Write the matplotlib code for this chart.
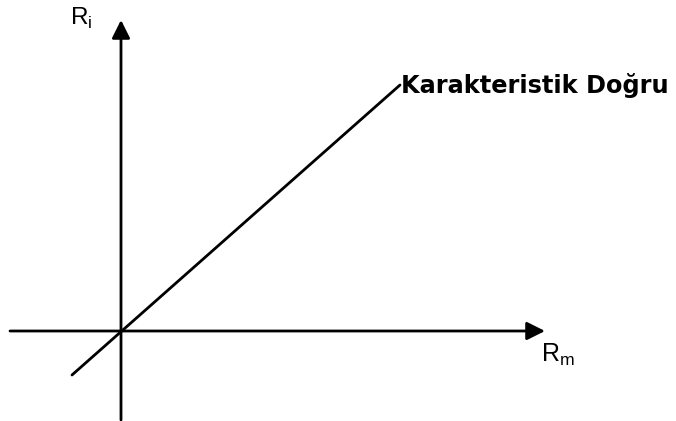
import matplotlib.pyplot as plt

plt.rcParams['font.family'] = ['Liberation Sans', 'DejaVu Sans']
plt.rcParams['mathtext.fontset'] = 'custom'
plt.rcParams['mathtext.rm'] = 'Liberation Sans'

# schematic coordinates, origin where the two axes cross (units ~ pixels)
x_axis = [-111, 424]          # horizontal axis from / to (arrow at right)
y_axis = [-89, 311]           # vertical axis from / to (arrow at top)
line_x = [-49, 279]           # characteristic line
line_y = [-44, 246]
line_label = 'Karakteristik Doğru'
x_label = r'R$_{\rm m}$'
y_label = r'R$_{\rm i}$'

fig = plt.figure(figsize=(6.76, 4.21), dpi=100)
ax = fig.add_axes([0, 0, 1, 1])
ax.set_xlim(-121, 555)
ax.set_ylim(-90, 331)
ax.axis('off')

arrow = dict(arrowstyle='-|>,head_length=1.1,head_width=0.55', mutation_scale=10,
             color='black', lw=2.0, shrinkA=0, shrinkB=0)
ax.annotate('', xy=(x_axis[1], 0), xytext=(x_axis[0], 0), arrowprops=arrow)
ax.annotate('', xy=(0, y_axis[1]), xytext=(0, y_axis[0]), arrowprops=arrow)

ax.plot(line_x, line_y, color='black', lw=2.0, solid_capstyle='round')

ax.text(line_x[1] + 1, line_y[1] - 1, line_label, fontsize=17.3, fontweight='bold',
        family='DejaVu Sans', ha='left', va='center')
ax.text(-51, 306, y_label, fontsize=17.5, ha='left', va='baseline')
ax.text(420, -31, x_label, fontsize=18, ha='left', va='baseline')

fig.savefig('out.png', dpi=100)
